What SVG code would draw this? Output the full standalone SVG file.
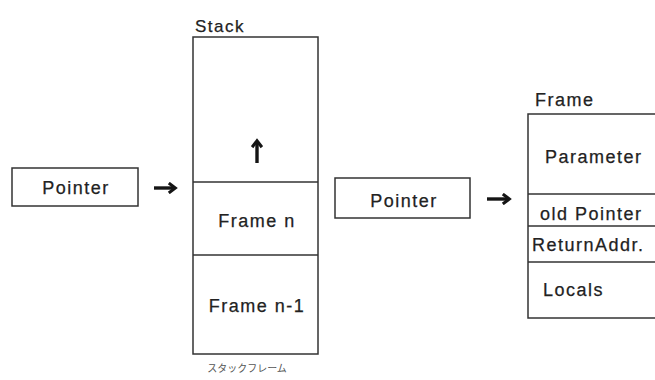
<svg xmlns="http://www.w3.org/2000/svg" width="655" height="380" viewBox="0 0 655 380">
<defs>
<style>
.box{fill:#fff;stroke:#333;stroke-width:1.5}
.ln{stroke:#333;stroke-width:1.5;fill:none}
.t{font-family:"Liberation Sans",Arial,sans-serif;font-size:18px;letter-spacing:1.5px;fill:#222;stroke:#222;stroke-width:0.25}
.c{text-anchor:middle}
.arr{stroke:#151515;stroke-width:3.4;fill:none}
</style>
<marker id="ah" viewBox="0 0 10 10" refX="7" refY="5" markerWidth="3.8" markerHeight="3.8" orient="auto" markerUnits="strokeWidth">
<path d="M2.2,1.2 L7.2,5 L2.2,8.8" fill="none" stroke="#151515" stroke-width="2.4" stroke-linejoin="miter"/>
</marker>
</defs>
<rect width="655" height="380" fill="#fff"/>
<g id="stack">
<text class="t" x="195" y="32" style="font-size:17px">Stack</text>
<rect class="box" x="193" y="37" width="125" height="317"/>
<line class="ln" x1="193" y1="182" x2="318" y2="182"/>
<line class="ln" x1="193" y1="255" x2="318" y2="255"/>
<text class="t c" x="257" y="227">Frame  n</text>
<text class="t c" x="257" y="312">Frame  n-1</text>
<text x="247" y="372" style="font-family:'Noto Sans CJK JP',sans-serif;font-size:10px;fill:#555;text-anchor:middle">スタックフレーム</text>
</g>
<g id="pointer1">
<rect class="box" x="12" y="168" width="126" height="38"/>
<text class="t c" x="76" y="194">Pointer</text>
</g>
<g id="pointer2">
<rect class="box" x="335" y="178" width="135" height="40"/>
<text class="t c" x="404" y="207">Pointer</text>
</g>
<g id="frame">
<text class="t" x="535" y="106">Frame</text>
<rect class="box" x="528" y="114" width="140" height="204"/>
<line class="ln" x1="528" y1="194" x2="655" y2="194"/>
<line class="ln" x1="528" y1="226" x2="655" y2="226"/>
<line class="ln" x1="528" y1="262" x2="655" y2="262"/>
<text class="t" x="545" y="163">Parameter</text>
<text class="t" x="540" y="220">old  Pointer</text>
<text class="t" x="532" y="251">ReturnAddr.</text>
<text class="t" x="543" y="296">Locals</text>
</g>
<g id="connectors">
<line class="arr" x1="154" y1="188" x2="175" y2="188" marker-end="url(#ah)"/>
<line class="arr" x1="487" y1="199" x2="509" y2="199" marker-end="url(#ah)"/>
<line class="arr" x1="257" y1="163" x2="257" y2="141" marker-end="url(#ah)"/>
</g>
</svg>
